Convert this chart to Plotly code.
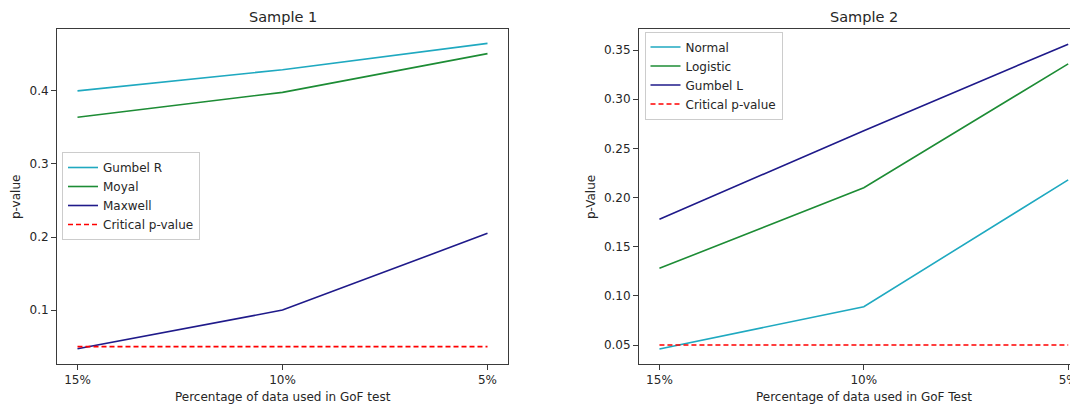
import plotly.graph_objects as go

# The page body has an 8px default margin, so the figure is drawn 8px in and
# sized so that it still fills the 1078x405 window.
OFF = 8
W, H = 1078 - OFF, 405 - OFF

categories = ["15%", "10%", "5%"]

# Sample 1
gumbel_r = [0.400, 0.429, 0.465]
moyal = [0.364, 0.398, 0.451]
maxwell = [0.047, 0.100, 0.205]
critical_1 = [0.05, 0.05, 0.05]

# Sample 2
normal = [0.046, 0.089, 0.218]
logistic = [0.128, 0.210, 0.336]
gumbel_l = [0.178, 0.268, 0.356]
critical_2 = [0.05, 0.05, 0.05]

C_CYAN = "#1fa9c0"
C_GREEN = "#1d8c35"
C_NAVY = "#1f1a8a"
C_RED = "#ff0000"
FONT = "DejaVu Sans"
TXT = "#262626"

def px(xpix):
    return (xpix - OFF) / W

def py(ypix):
    return 1 - (ypix - OFF) / H

fig = go.Figure()

def add(x, y, name, color, xa, ya, leg, dash="solid"):
    fig.add_trace(go.Scatter(
        x=x, y=y, name=name, mode="lines",
        line=dict(color=color, width=1.6, dash=dash),
        xaxis=xa, yaxis=ya, legend=leg,
    ))

add(categories, gumbel_r, "Gumbel R", C_CYAN, "x", "y", "legend")
add(categories, moyal, "Moyal", C_GREEN, "x", "y", "legend")
add(categories, maxwell, "Maxwell", C_NAVY, "x", "y", "legend")
add(categories, critical_1, "Critical p-value", C_RED, "x", "y", "legend", dash="5px,3px")

add(categories, normal, "Normal", C_CYAN, "x2", "y2", "legend2")
add(categories, logistic, "Logistic", C_GREEN, "x2", "y2", "legend2")
add(categories, gumbel_l, "Gumbel L", C_NAVY, "x2", "y2", "legend2")
add(categories, critical_2, "Critical p-value", C_RED, "x2", "y2", "legend2", dash="5px,3px")

axis_common = dict(
    showgrid=False, zeroline=False, showline=True, linecolor="#3a3a3a", linewidth=1,
    ticks="outside", ticklen=5, tickwidth=1, tickcolor="#3a3a3a",
    tickfont=dict(family=FONT, size=12, color=TXT),
)

y_top, y_bot = 29.3, 364.0

fig.update_layout(
    width=W, height=H,
    margin=dict(l=0, r=0, t=0, b=0),
    paper_bgcolor="white", plot_bgcolor="white",
    font=dict(family=FONT, size=12, color=TXT),
    xaxis=dict(axis_common, domain=[px(57), px(508)], range=[-0.1, 2.1],
               type="category", mirror=True, anchor="y"),
    yaxis=dict(axis_common, domain=[py(y_bot), py(y_top)], range=[0.0262, 0.4843],
               tickvals=[0.1, 0.2, 0.3, 0.4], ticktext=["0.1", "0.2", "0.3", "0.4"],
               mirror=True, anchor="x"),
    xaxis2=dict(axis_common, domain=[px(639), 1.0], range=[-0.1, 2.048],
                type="category", mirror=True, anchor="y2"),
    yaxis2=dict(axis_common, domain=[py(y_bot), py(y_top)], range=[0.0307, 0.3711],
                tickvals=[0.05, 0.10, 0.15, 0.20, 0.25, 0.30, 0.35],
                ticktext=["0.05", "0.10", "0.15", "0.20", "0.25", "0.30", "0.35"],
                mirror=False, anchor="x2"),
    legend=dict(x=px(62), y=py(152), xanchor="left", yanchor="top",
                bgcolor="rgba(255,255,255,0.8)", bordercolor="#cccccc", borderwidth=1,
                font=dict(family=FONT, size=12, color=TXT)),
    legend2=dict(x=px(644.5), y=py(31.5), xanchor="left", yanchor="top",
                 bgcolor="rgba(255,255,255,0.8)", bordercolor="#cccccc", borderwidth=1,
                 font=dict(family=FONT, size=12, color=TXT)),
    showlegend=True,
)

annots = [
    dict(text="Sample 1", x=px(282.5), y=py(17), font=dict(size=14.5)),
    dict(text="Sample 2", x=px(864), y=py(17), font=dict(size=14.5)),
    dict(text="Percentage of data used in GoF test", x=px(282.5), y=py(396.5), font=dict(size=12)),
    dict(text="Percentage of data used in GoF Test", x=px(864), y=py(396.5), font=dict(size=12)),
    dict(text="p-value", x=px(16), y=py(197), textangle=-90, font=dict(size=12)),
    dict(text="p-Value", x=px(591), y=py(197), textangle=-90, font=dict(size=12)),
]
for a in annots:
    fig.add_annotation(xref="paper", yref="paper", xanchor="center", yanchor="middle",
                       showarrow=False, text=a["text"], x=a["x"], y=a["y"],
                       textangle=a.get("textangle", 0),
                       font=dict(family=FONT, color=TXT, size=a["font"]["size"]))

fig.write_html("out.html")
